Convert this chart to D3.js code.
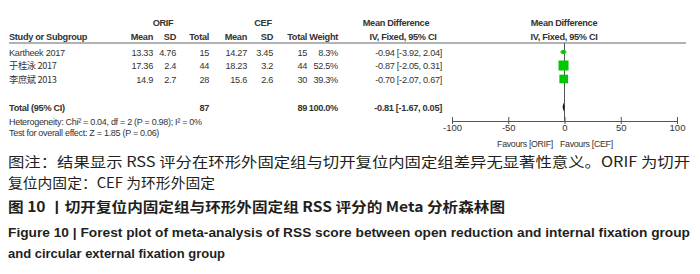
<!DOCTYPE html>
<html>
<head>
<meta charset="utf-8">
<script src="https://cdn.jsdelivr.net/npm/d3@7"></script>
<style>
  body { margin: 0; background: #fff; }
  svg text { font-family: "Liberation Sans", Arial, sans-serif; fill: #333; }
</style>
</head>
<body>
<div id="chart"></div>
<script>
var studies = ["Kartheek 2017", "于桂泳 2017", "李庶斌 2013"];
var orifMean = [13.33, 17.36, 14.9];
var orifSD = [4.76, 2.4, 2.7];
var orifN = [15, 44, 28];
var cefMean = [14.27, 18.23, 15.6];
var cefSD = [3.45, 3.2, 2.6];
var cefN = [15, 44, 30];
var weights = [8.3, 52.5, 39.3];
var md = [-0.94, -0.87, -0.70];
var ciLow = [-3.92, -2.05, -2.07];
var ciHigh = [2.04, 0.31, 0.67];
var total = { orifN: 87, cefN: 89, weight: "100.0%", md: -0.81, lo: -1.67, hi: 0.05 };
var ticks = [-100, -50, 0, 50, 100];

function init() {
    var w = 700, h = 274;
    var svg = d3.select("#chart").append("svg")
        .attr("width", w).attr("height", h);

    var fmt2 = d3.format(".2f");
    var num = function(v) { return fmt2(v).replace("\u2212", "-"); };
    var ciText = function(m, l, u) {
        return num(m) + " [" + num(l) + ", " + num(u) + "]";
    };

    // rows
    var y = d3.scalePoint().domain(studies).range([52, 79]);
    var yTotal = 107;

    // effect axis
    var x = d3.scaleLinear().domain([-100, 100]).range([452, 677]);
    var size = d3.scaleSqrt().domain([0, 52.5]).range([0, 10]);

    var g = svg.append("g").style("font-size", "9.2px").style("letter-spacing", "-0.3px");

    // column group headers
    g.append("text").attr("x", 163).attr("y", 26).attr("text-anchor", "middle")
        .style("font-weight", "bold").text("ORIF");
    g.append("text").attr("x", 263).attr("y", 26).attr("text-anchor", "middle")
        .style("font-weight", "bold").text("CEF");
    g.append("text").attr("x", 396).attr("y", 26).attr("text-anchor", "middle")
        .style("font-weight", "bold").text("Mean Difference");
    g.append("text").attr("x", 564).attr("y", 26).attr("text-anchor", "middle")
        .style("font-weight", "bold").text("Mean Difference");

    var cols = [
        { label: "Mean", x: 153 }, { label: "SD", x: 176 }, { label: "Total", x: 209 },
        { label: "Mean", x: 247 }, { label: "SD", x: 273 }, { label: "Total", x: 307 },
        { label: "Weight", x: 338 }
    ];
    g.selectAll("text.colhead").data(cols).enter().append("text")
        .attr("class", "colhead")
        .attr("x", function(d) { return d.x; }).attr("y", 40)
        .attr("text-anchor", "end").style("font-weight", "bold")
        .text(function(d) { return d.label; });
    g.append("text").attr("x", 9).attr("y", 40).style("font-weight", "bold").text("Study or Subgroup");
    g.append("text").attr("x", 403).attr("y", 40).attr("text-anchor", "middle")
        .style("font-weight", "bold").text("IV, Fixed, 95% CI");
    g.append("text").attr("x", 564).attr("y", 40).attr("text-anchor", "middle")
        .style("font-weight", "bold").text("IV, Fixed, 95% CI");

    svg.append("line").attr("x1", 9).attr("x2", 686).attr("y1", 43).attr("y2", 43)
        .attr("stroke", "#666").attr("stroke-width", 1);

    // study rows
    var rows = g.selectAll("g.row").data(studies).enter().append("g")
        .attr("class", "row")
        .attr("transform", function(d) { return "translate(0," + (y(d) + 3.5) + ")"; });
    rows.append("text").attr("x", 9)
        .style("font-family", function(d, i) { return i > 0 ? "'Noto Sans CJK SC', sans-serif" : null; })
        .text(function(d) { return d; });
    var cells = [
        function(i) { return orifMean[i]; }, function(i) { return orifSD[i]; }, function(i) { return orifN[i]; },
        function(i) { return cefMean[i]; }, function(i) { return cefSD[i]; }, function(i) { return cefN[i]; },
        function(i) { return weights[i] + "%"; }
    ];
    rows.each(function(d, i) {
        var r = d3.select(this);
        cells.forEach(function(f, c) {
            r.append("text").attr("x", cols[c].x).attr("text-anchor", "end").text(f(i));
        });
        r.append("text").attr("x", 442).attr("text-anchor", "end")
            .text(ciText(md[i], ciLow[i], ciHigh[i]));
    });

    // total row
    var tg = g.append("g").attr("transform", "translate(0," + (yTotal + 3.5) + ")")
        .style("font-weight", "bold");
    tg.append("text").attr("x", 9).text("Total (95% CI)");
    tg.append("text").attr("x", 209).attr("text-anchor", "end").text(total.orifN);
    tg.append("text").attr("x", 307).attr("text-anchor", "end").text(total.cefN);
    tg.append("text").attr("x", 338).attr("text-anchor", "end").text(total.weight);
    tg.append("text").attr("x", 442).attr("text-anchor", "end").text(ciText(total.md, total.lo, total.hi));

    g.append("text").attr("x", 9).attr("y", 125).style("font-size", "9px")
        .text("Heterogeneity: Chi\u00b2 = 0.04, df = 2 (P = 0.98); I\u00b2 = 0%");
    g.append("text").attr("x", 9).attr("y", 136).style("font-size", "9px")
        .text("Test for overall effect: Z = 1.85 (P = 0.06)");

    // plot: zero line
    var axisY = 121;
    svg.append("line").attr("x1", x(0)).attr("x2", x(0)).attr("y1", 43).attr("y2", axisY)
        .attr("stroke", "#555").attr("stroke-width", 1);

    // CI whiskers and squares
    var marks = svg.append("g");
    studies.forEach(function(s, i) {
        marks.append("line").attr("x1", x(ciLow[i])).attr("x2", x(ciHigh[i]))
            .attr("y1", y(s)).attr("y2", y(s)).attr("stroke", "#00b000").attr("stroke-width", 1);
        var sz = size(weights[i]);
        marks.append("rect").attr("x", x(md[i]) - sz / 2).attr("y", y(s) - sz / 2)
            .attr("width", sz).attr("height", sz).attr("fill", "#00c800");
    });

    // diamond
    var dh = 4.5;
    marks.append("path")
        .attr("d", "M" + x(total.lo) + "," + yTotal + "L" + x(total.md) + "," + (yTotal - dh) +
            "L" + x(total.hi) + "," + yTotal + "L" + x(total.md) + "," + (yTotal + dh) + "Z")
        .attr("fill", "#111");

    // axis
    var ax = svg.append("g").attr("transform", "translate(0," + axisY + ")")
        .call(d3.axisBottom(x).tickValues(ticks).tickSize(0).tickPadding(3)
            .tickFormat(function(d) { return String(d); }));
    ax.attr("font-size", 9);
    ax.select(".domain").attr("stroke", "#555");
    ax.selectAll(".tick line").attr("y1", -4).attr("y2", 3).attr("stroke", "#555");
    ax.selectAll(".tick text").style("font-family", "'Liberation Sans', Arial, sans-serif")
        .style("font-size", "9.5px").attr("fill", "#333");

    g.append("text").attr("x", 553).attr("y", 146.5).attr("text-anchor", "end").style("font-size", "8.8px")
        .text("Favours [ORIF]");
    g.append("text").attr("x", 560).attr("y", 146.5).style("font-size", "8.8px")
        .text("Favours [CEF]");

    // caption
    var cap = svg.append("g");
    var capFont = "'Noto Sans CJK SC', sans-serif";
    var engFont = "'Liberation Sans Narrow', 'Liberation Sans', sans-serif";
    cap.append("text").attr("x", 8).attr("y", 166.5).style("font-family", capFont)
        .style("font-size", "14px").style("fill", "#231f20")
        .attr("textLength", 682).attr("lengthAdjust", "spacingAndGlyphs")
        .text("图注：结果显示 RSS 评分在环形外固定组与切开复位内固定组差异无显著性意义。ORIF 为切开");
    cap.append("text").attr("x", 8).attr("y", 188).style("font-family", capFont)
        .style("font-size", "14px").style("fill", "#231f20")
        .attr("textLength", 207).attr("lengthAdjust", "spacingAndGlyphs")
        .text("复位内固定：CEF 为环形外固定");
    cap.append("text").attr("x", 8).attr("y", 212).style("font-family", capFont)
        .style("font-size", "14px").style("font-weight", "bold").style("fill", "#231f20")
        .attr("textLength", 497).attr("lengthAdjust", "spacingAndGlyphs")
        .text("图 10 丨切开复位内固定组与环形外固定组 RSS 评分的 Meta 分析森林图");
    cap.append("text").attr("x", 8).attr("y", 237).style("font-family", engFont)
        .style("font-size", "13px").style("font-weight", "bold").style("fill", "#231f20")
        .attr("textLength", 682).attr("lengthAdjust", "spacingAndGlyphs")
        .text("Figure 10  |  Forest plot of meta-analysis of RSS score between open reduction and internal fixation group");
    cap.append("text").attr("x", 8).attr("y", 258).style("font-family", engFont)
        .style("font-size", "13px").style("font-weight", "bold").style("fill", "#231f20")
        .attr("textLength", 217).attr("lengthAdjust", "spacingAndGlyphs")
        .text("and circular external fixation group");
}

window.onload = init;
</script>
</body>
</html>
